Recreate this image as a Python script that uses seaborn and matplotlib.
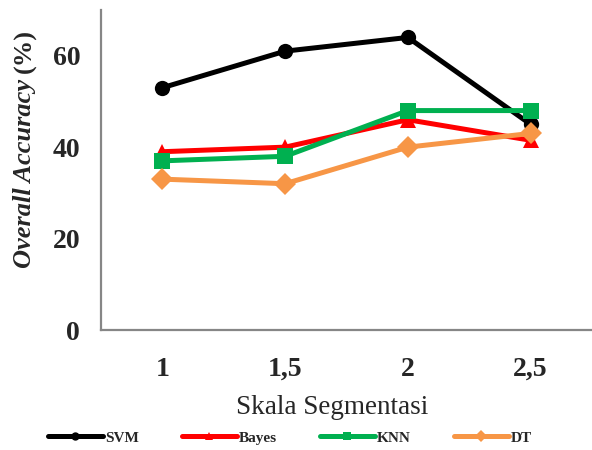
import matplotlib
matplotlib.use("Agg")
import matplotlib.pyplot as plt
import seaborn as sns
import pandas as pd
from matplotlib.lines import Line2D

scales = ["1", "1,5", "2", "2,5"]
svm = [53, 61, 64, 45]
bayes = [39, 40, 46, 41.5]
knn = [37, 38, 48, 48]
dt = [33, 32, 40, 43]

series_names = ["SVM", "Bayes", "KNN", "DT"]
colors = {"SVM": "#000000", "Bayes": "#FF0000", "KNN": "#00B050", "DT": "#F79646"}
markers = {"SVM": "o", "Bayes": "^", "KNN": "s", "DT": "D"}

rows = []
for name, vals in zip(series_names, [svm, bayes, knn, dt]):
    for i, v in enumerate(vals):
        rows.append({"pos": i, "value": v, "model": name})
df = pd.DataFrame(rows)

sns.set_style("white")
plt.rcParams["font.family"] = ["Liberation Serif", "DejaVu Serif"]

W, H = 592, 450
fig = plt.figure(figsize=(W / 100, H / 100), dpi=100)
ax = fig.add_axes([101 / W, 1 - 330 / H, 1 - 101 / W, 320 / H])

sns.lineplot(data=df, x="pos", y="value", hue="model", style="model",
             hue_order=series_names, style_order=series_names,
             palette=colors, markers=markers, dashes=False,
             linewidth=3.6, markersize=11, markeredgewidth=0,
             legend=False, ax=ax)

ax.set_xlim(-0.5, 3.5)
ax.set_ylim(0, 70)
ax.set_xticks(range(len(scales)))
ax.set_xticklabels(scales)
ax.set_yticks([0, 20, 40, 60])
ax.tick_params(axis="x", length=0, pad=19.5, labelsize=20)
ax.tick_params(axis="y", length=0, pad=15, labelsize=20)
for lab in ax.get_xticklabels() + ax.get_yticklabels():
    lab.set_fontweight("bold")

for s in ["top", "right"]:
    ax.spines[s].set_visible(False)
for s in ["left", "bottom"]:
    ax.spines[s].set_color("#868686")
    ax.spines[s].set_linewidth(1.6)

ax.set_xlabel("Skala Segmentasi", fontsize=19.5)
ax.xaxis.label.set_va("center")
ax.xaxis.set_label_coords((332 - 101) / (W - 101), -(408 - 330) / 320)
ax.set_ylabel("")

# y label: bold italic part + bold upright part
x_base = 31 / W
y_start = (H - 268) / H
t1 = fig.text(x_base, y_start, "Overall Accuracy", rotation=90, rotation_mode="anchor",
              ha="left", va="baseline", fontsize=19, fontweight="bold", fontstyle="italic")
renderer = fig.canvas.get_renderer()
bb = t1.get_window_extent(renderer)
space = 6
fig.text(x_base, (y_start * H + bb.height + space) / H, "(%)", rotation=90,
         rotation_mode="anchor", ha="left", va="baseline", fontsize=19, fontweight="bold")

handles = [Line2D([], [], color=colors[n], marker=markers[n], linewidth=3.6,
                  markersize=6, markeredgewidth=0) for n in series_names]
fig.legend(handles, series_names, loc="center", bbox_to_anchor=(0.49, 0.027),
           ncol=4, frameon=False, handlelength=3.6, handletextpad=0.15,
           columnspacing=2.8, prop={"family": "Liberation Serif", "weight": "bold", "size": 11})

fig.savefig("out.png", dpi=100)
